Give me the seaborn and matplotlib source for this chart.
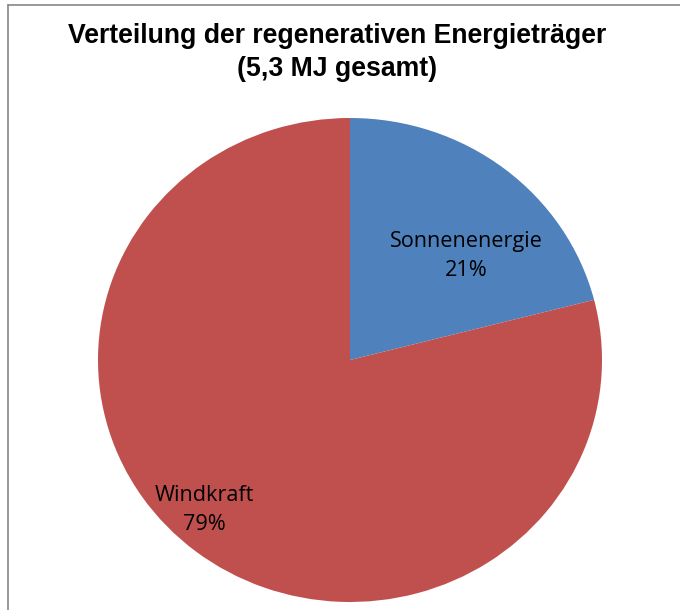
import matplotlib
matplotlib.use("Agg")
import matplotlib.pyplot as plt
import seaborn as sns
from matplotlib.lines import Line2D

categories = ["Sonnenenergie", "Windkraft"]
shares = [21, 79]
colors = ["#4F81BD", "#C0504D"]

sns.set_theme(style="white")
plt.rcParams['font.family'] = ['DejaVu Sans']

fig = plt.figure(figsize=(6.8, 6.1), dpi=100)
W, H = 680, 610
cx, cy, rx, ry = 350, 360, 252, 242
ax = fig.add_axes([(cx - rx) / W, (H - cy - ry) / H, 2 * rx / W, 2 * ry / H])
wedges, _ = ax.pie(shares, colors=colors, startangle=90, counterclock=False,
                   wedgeprops=dict(linewidth=0))
ax.set_aspect('auto')
ax.set_xlim(-1, 1)
ax.set_ylim(-1, 1)
ax.axis('off')

label_pos = [(466, 256), (204, 510)]
for cat, val, (px, py) in zip(categories, shares, label_pos):
    fig.text(px / W, 1 - py / H, f"{cat}\n{val}%", ha="center", va="center",
             fontsize=15.6, family=["Open Sans", "DejaVu Sans"], color="black",
             linespacing=1.45)

fig.text(337 / W, 1 - 36 / H, "Verteilung der regenerativen Energieträger",
         ha="center", va="center", fontsize=19.2, fontweight="bold", color="black",
         family=["Liberation Sans", "DejaVu Sans"])
fig.text(337 / W, 1 - 69 / H, "(5,3 MJ gesamt)",
         ha="center", va="center", fontsize=19.2, fontweight="bold", color="black",
         family=["Liberation Sans", "DejaVu Sans"])

bx, by = 8 / W, 1 - 5 / H
fig.add_artist(Line2D([bx, bx], [0, by], transform=fig.transFigure, color="#868686", lw=1.2))
fig.add_artist(Line2D([bx, 1], [by, by], transform=fig.transFigure, color="#868686", lw=1.2))

fig.savefig("out.png", dpi=100)
